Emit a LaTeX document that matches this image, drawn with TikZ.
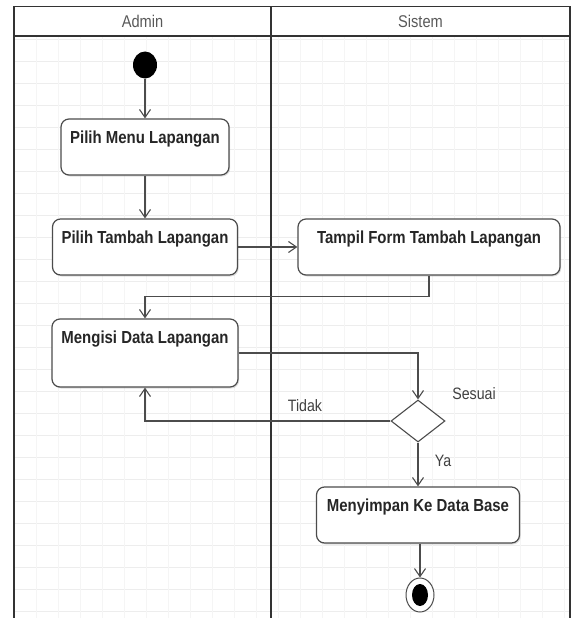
\documentclass[tikz,border=0pt]{standalone}
\usepackage{fontspec}
\setmainfont{Liberation Sans}
\newfontfamily\narrowfont[FakeStretch=0.86]{Liberation Sans}
\usetikzlibrary{arrows.meta,shapes.geometric,shadows}

\begin{document}
\begin{tikzpicture}[x=1pt,y=-1pt,
  lane/.style={draw=black!80, line width=1.8pt},
  gridh/.style={draw=black!7, line width=0.8pt},
  gridv/.style={draw=black!4, line width=0.8pt},
  actbox/.style={draw=black!70, line width=1.2pt, fill=white, rounded corners=8pt,
    text=black!85, font=\narrowfont\bfseries\fontsize{17.4}{17}\selectfont,
    inner xsep=0pt, inner ysep=0pt, text height=24pt, text depth=32pt, anchor=base,
    drop shadow={shadow xshift=1.2pt, shadow yshift=-1.5pt, opacity=0.25}},
  flow/.style={draw=black!70, line width=1.1pt, -{Straight Barb[length=8pt,width=11pt]}},
  lanetitle/.style={font=\narrowfont\fontsize{17}{17}\selectfont, text=black!65},
  guard/.style={font=\narrowfont\fontsize{16.5}{16.5}\selectfont, text=black!75},
]
\useasboundingbox (0,0) rectangle (574,618);

% background grid of the swimlanes
\foreach \y in {39,61,...,618} \draw[gridh] (14,\y) -- (570,\y);
\foreach \x in {36,58,...,570} \draw[gridv] (\x,36) -- (\x,618);

% swimlane frame
\draw[lane] (14,618) -- (14,6.5) -- (570,6.5) -- (570,618);
\draw[lane] (271,6.5) -- (271,618);
\draw[lane] (14,36) -- (570,36);
\node[lanetitle] (tAdmin) at (142.5,21.5) {Admin};
\node[lanetitle] (tSistem) at (420.5,21.5) {Sistem};

% activity nodes
\node[ellipse, fill=black, minimum width=24pt, minimum height=27pt, inner sep=0pt] (start) at (145,65) {};
\node[actbox, minimum width=168pt] (menu) at (145,143) {Pilih Menu Lapangan};
\node[actbox, minimum width=185pt] (tambah) at (145,243) {Pilih Tambah Lapangan};
\node[actbox, minimum width=262pt] (tampil) at (429,243) {Tampil Form Tambah Lapangan};
\node[actbox, minimum width=186pt, text depth=44pt] (isi) at (145,343) {Mengisi Data Lapangan};
\node[diamond, draw=black!70, line width=1.1pt, fill=white, minimum width=54pt, minimum height=42pt, inner sep=0pt] (cek) at (418,421) {};
\node[actbox, minimum width=203pt] (simpan) at (418,511) {Menyimpan Ke Data Base};
\node[ellipse, draw=black!70, line width=1pt, fill=white, minimum width=28pt, minimum height=34pt, inner sep=0pt] (finish) at (420,595) {};
\node[ellipse, fill=black, minimum width=16pt, minimum height=22pt, inner sep=0pt] (finishdot) at (finish.center) {};

% guard labels
\node[guard] (lblSesuai) at (474,394) {Sesuai};
\node[guard] (lblTidak) at (305,406) {Tidak};
\node[guard] (lblYa) at (443,461) {Ya};

% control flow
\draw[flow] (start) -- (menu);
\draw[flow] (menu) -- (tambah);
\draw[flow] (tambah) -- (tampil);
\draw[flow] (tampil.south) -- ++(0,21) -| (isi.north);
\draw[flow] (isi.east) -| (cek.north);
\draw[flow] (cek.west) -| (isi.south);
\draw[flow] (cek) -- (simpan);
\draw[flow] (simpan.south -| finish.north) -- (finish);
\end{tikzpicture}
\end{document}
